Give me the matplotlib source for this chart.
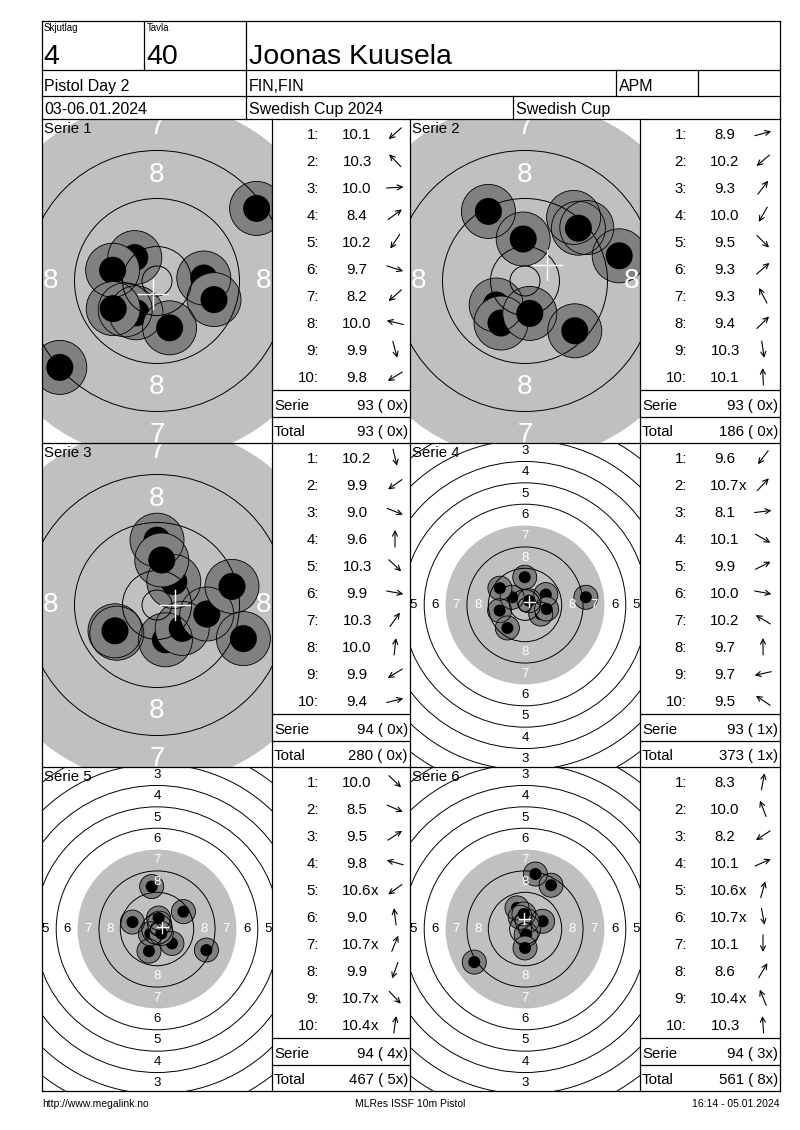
import numpy as np
import matplotlib.pyplot as plt
from matplotlib.patches import Circle

plt.rcParams['font.family'] = ['Liberation Sans', 'DejaVu Sans']

# header texts
squad = '4'
lane = '40'
shooter = 'Joonas Kuusela'
event = 'Pistol Day 2'
nation = 'FIN,FIN'
club = 'APM'
dates = '03-06.01.2024'
competition = 'Swedish Cup 2024'
cup = 'Swedish Cup'
footer_left = 'http://www.megalink.no'
footer_mid = 'MLRes ISSF 10m Pistol'
footer_right = '16:14 - 05.01.2024'

# shots: decimal score, hit position in mm (x right, y up), inner tens (shot no.)
s1_score = [10.1, 10.3, 10.0, 8.4, 10.2, 9.7, 8.2, 10.0, 9.9, 9.8]
s1_x = [-5.3, -3.7, 7.8, 16.6, -3.5, 9.5, -16.2, -7.4, 2.1, -7.3]
s1_y = [-4.8, 3.9, 0.5, 12.1, -5.3, -3.1, -14.4, 1.8, -7.8, -4.6]
s1_inner = []

s2_score = [8.9, 10.2, 9.3, 10.0, 9.5, 9.3, 9.3, 9.4, 10.3, 10.1]
s2_x = [15.7, -4.8, 8.1, -4.0, 8.3, 10.3, -6.1, 8.9, 0.8, -0.3]
s2_y = [4.2, -4.0, 10.6, -7.0, -8.3, 8.9, 11.6, 8.8, -5.4, 7.0]
s2_inner = []

s3_score = [10.2, 9.9, 9.0, 9.6, 10.3, 9.9, 10.3, 10.0, 9.9, 9.4]
s3_x = [1.4, -6.7, 14.4, 0.0, 4.2, 8.3, 2.8, 0.8, -7.0, 12.5]
s3_y = [-5.8, -4.7, -5.6, 10.8, -3.9, -1.5, 3.9, 7.5, -4.3, 3.1]
s3_inner = []

s4_score = [9.6, 10.7, 8.1, 10.1, 9.9, 10.0, 10.2, 9.7, 9.7, 9.5]
s4_x = [-6.6, 1.5, 22.8, 5.9, 7.8, 8.1, -4.8, -0.1, -9.5, -9.4]
s4_y = [-8.6, 1.6, 2.9, -3.4, 3.9, -1.5, 2.9, 10.4, -2.1, 6.3]
s4_inner = [2]

s5_score = [10.0, 8.5, 9.5, 9.8, 10.6, 9.0, 10.7, 9.9, 10.7, 10.4]
s5_x = [5.6, 18.5, 9.9, -9.2, -2.5, -2.0, 0.9, -3.0, 1.6, 0.6]
s5_y = [-5.4, -7.9, 6.5, 2.6, -1.8, 15.9, 2.2, -8.3, -1.7, 4.1]
s5_inner = [5, 7, 9, 10]

s6_score = [8.3, 10.0, 8.2, 10.1, 10.6, 10.7, 10.1, 8.6, 10.4, 10.3]
s6_x = [3.9, -3.0, -19.0, 6.6, 0.8, 0.4, 0.0, 9.75, -1.8, -0.4]
s6_y = [20.6, 7.9, -12.4, 2.9, 3.0, -2.1, -7.1, 16.4, 4.4, 5.6]
s6_inner = [5, 6, 9]

series = [(s1_score, s1_x, s1_y, s1_inner), (s2_score, s2_x, s2_y, s2_inner),
          (s3_score, s3_x, s3_y, s3_inner), (s4_score, s4_x, s4_y, s4_inner),
          (s5_score, s5_x, s5_y, s5_inner), (s6_score, s6_x, s6_y, s6_inner)]
zoomed = [True, True, True, False, False, False]

W, H = 800, 1130
fig = plt.figure(figsize=(W / 100, H / 100), dpi=100)
renderer = fig.canvas.get_renderer()
ov = fig.add_axes([0, 0, 1, 1])
ov.set_xlim(0, W)
ov.set_ylim(H, 0)
ov.axis('off')
ov.set_zorder(10)
ov.patch.set_visible(False)

LW = 0.9
FS = 10.8


def hline(y, x0, x1):
    ov.plot([x0, x1], [y, y], color='black', lw=LW, solid_capstyle='projecting')


def vline(x, y0, y1):
    ov.plot([x, x], [y0, y1], color='black', lw=LW, solid_capstyle='projecting')


L, R = 42, 780
# header box
top, r1, r2, gtop = 21, 70, 96, 119
for y in [top, r1, r2]:
    hline(y, L, R)
vline(L, top, gtop)
vline(R, top, gtop)
for x in [144, 246]:
    vline(x, top, r1)
for x in [246, 616, 698]:
    vline(x, r1, r2)
for x in [246, 513]:
    vline(x, r2, gtop)

ov.text(44, 31, 'Skjutlag', fontsize=7, va='baseline')
ov.text(147, 31, 'Tavla', fontsize=7, va='baseline')
ov.text(43, 64, squad, fontsize=20.5, va='baseline')
ov.text(146, 64, lane, fontsize=20.5, va='baseline')
ov.text(249, 64, shooter, fontsize=20.5, va='baseline')
ov.text(44, 91, event, fontsize=11.5, va='baseline')
ov.text(249, 91, nation, fontsize=11.5, va='baseline')
ov.text(619, 91, club, fontsize=11.5, va='baseline')
ov.text(44, 114, dates, fontsize=11.5, va='baseline')
ov.text(249, 114, competition, fontsize=11.5, va='baseline')
ov.text(516, 114, cup, fontsize=11.5, va='baseline')

# grid
row_top = [119, 443, 767]
row_h = 324
col_t = [(42, 272), (410, 640)]
col_s = [(272, 410), (640, 780)]
for T in row_top:
    hline(T, L, R)
hline(row_top[-1] + row_h, L, R)
for x in [L, 272, 410, 640, R]:
    vline(x, gtop, row_top[-1] + row_h)

ring_r = [2.5] + [5.75 + 8 * k for k in range(10)]  # inner ten, 10 .. 1


def draw_target(rect, sx, sy, zoom, name):
    x0, y0, x1, y1 = rect
    ax = fig.add_axes([x0 / W, 1 - y1 / H, (x1 - x0) / W, (y1 - y0) / H])
    scale = 6.0 if zoom else 2.67
    hw = (x1 - x0) / 2 / scale
    hh = (y1 - y0) / 2 / scale
    ax.set_xlim(-hw, hw)
    ax.set_ylim(-hh, hh)
    ax.axis('off')
    ax.add_patch(Circle((0, 0), 29.75, fc='#c0c0c0', ec='none', zorder=1))
    for x, y in zip(sx, sy):
        ax.add_patch(Circle((x, y), 4.5, fc='#808080', ec='none', zorder=2))
        ax.add_patch(Circle((x, y), 2.25, fc='black', ec='none', zorder=2))
    for r in ring_r:
        if r == 29.75:
            continue
        ax.add_patch(Circle((0, 0), r, fc='none', ec='black', lw=0.7, zorder=3))
    for x, y in zip(sx, sy):
        ax.add_patch(Circle((x, y), 4.5, fc='none', ec='black', lw=0.6, zorder=3))
    # ring numbers
    labs = [8, 7] if zoom else [8, 7, 6, 5, 4, 3]
    fs = 20 if zoom else 9.5
    for k in labs:
        rr = 1.75 + 8 * (10 - k)
        col = 'white' if k >= 7 else 'black'
        for px, py in [(0, rr), (0, -rr), (rr, 0), (-rr, 0)]:
            if abs(px) > hw or abs(py) > hh:
                continue
            ax.text(px, py, str(k), color=col, fontsize=fs, ha='center',
                    va='center', zorder=4, clip_on=True)
    # mean point of impact
    mx, my = np.mean(sx), np.mean(sy)
    c = 2.5 if zoom else 2.0
    ax.plot([mx - c, mx + c], [my, my], color='white', lw=1.0, zorder=5)
    ax.plot([mx, mx], [my - c, my + c], color='white', lw=1.0, zorder=5)
    ov.text(x0 + 2, y0 + 14, name, fontsize=FS, va='baseline', zorder=6)


total = 0
total_x = 0
for n, (sc, sx, sy, inner) in enumerate(series):
    row, col = divmod(n, 2)
    T = row_top[row]
    tx0, tx1 = col_t[col]
    draw_target((tx0, T, tx1, T + row_h), sx, sy, zoomed[n], f'Serie {n + 1}')

    c0, c1 = col_s[col]
    for i, (s, x, y) in enumerate(zip(sc, sx, sy)):
        yb = T + 20 + 27 * i
        ov.text(c0 + 47, yb, f'{i + 1}:', fontsize=FS, ha='right', va='baseline')
        t = ov.text(c0 + 85, yb, f'{s:.1f}', fontsize=FS, ha='center', va='baseline')
        if (i + 1) in inner:
            bb = t.get_window_extent(renderer)
            ov.text(bb.x1 - 0.5, yb, 'x', fontsize=FS, ha='left', va='baseline')
        ang = np.arctan2(y, x)
        cx, cy, half = c0 + 123, yb - 5.5, 8.5
        ov.annotate('', xy=(cx + half * np.cos(ang), cy - half * np.sin(ang)),
                    xytext=(cx - half * np.cos(ang), cy + half * np.sin(ang)),
                    arrowprops=dict(arrowstyle='->', lw=0.8, color='black',
                                    shrinkA=0, shrinkB=0, mutation_scale=9))
    serie = int(sum(np.floor(np.array(sc) + 1e-9)))
    total += serie
    total_x += len(inner)
    hline(T + 271, c0, c1)
    hline(T + 298, c0, c1)
    ov.text(c0 + 2, T + 291, 'Serie', fontsize=FS, va='baseline')
    ov.text(c1 - 2, T + 291, f'{serie} ({len(inner):2d}x)', fontsize=FS,
            ha='right', va='baseline')
    ov.text(c0 + 2, T + 317, 'Total', fontsize=FS, va='baseline')
    ov.text(c1 - 2, T + 317, f'{total} ({total_x:2d}x)', fontsize=FS,
            ha='right', va='baseline')

ov.text(42, 1107, footer_left, fontsize=7.5, va='baseline')
ov.text(410, 1107, footer_mid, fontsize=7.5, ha='center', va='baseline')
ov.text(779, 1107, footer_right, fontsize=7.5, ha='right', va='baseline')

fig.savefig('out.png', dpi=100, facecolor='white')
